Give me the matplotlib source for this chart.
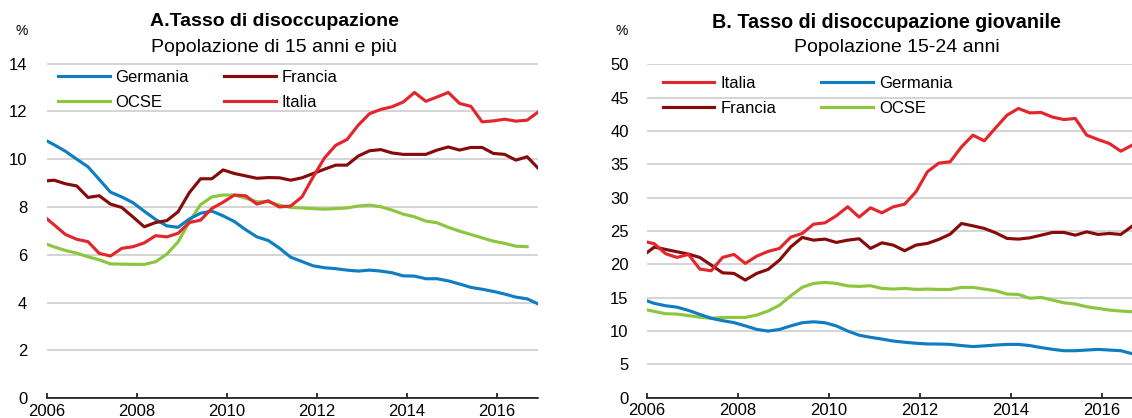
import numpy as np
import matplotlib
matplotlib.use("Agg")
import matplotlib.pyplot as plt

plt.rcParams['font.family'] = ['Liberation Sans', 'DejaVu Sans']

# DATA: quarterly values, first value = 2005Q4 (only its segment to 2006 shows)
# A. Tasso di disoccupazione, popolazione 15+
a_germania = [10.85, 10.6, 10.33, 10.0, 9.68, 9.15, 8.62, 8.42, 8.18, 7.82, 7.48, 7.21,
              7.15, 7.5, 7.74, 7.83, 7.63, 7.39, 7.05, 6.75, 6.6, 6.28, 5.9, 5.72,
              5.54, 5.46, 5.42, 5.36, 5.32, 5.36, 5.32, 5.25, 5.12, 5.11, 5.0, 5.0,
              4.91, 4.78, 4.64, 4.56, 4.47, 4.36, 4.23, 4.16, 3.94]
a_francia = [9.08, 9.12, 8.97, 8.88, 8.4, 8.47, 8.12, 7.98, 7.58, 7.17, 7.35, 7.43,
             7.8, 8.6, 9.18, 9.18, 9.55, 9.4, 9.3, 9.2, 9.23, 9.22, 9.12, 9.22,
             9.4, 9.58, 9.75, 9.75, 10.13, 10.35, 10.4, 10.26, 10.2, 10.2, 10.2, 10.38,
             10.51, 10.38, 10.49, 10.49, 10.24, 10.2, 9.96, 10.1, 9.61]
a_italia = [7.65, 7.25, 6.85, 6.65, 6.55, 6.06, 5.95, 6.27, 6.34, 6.5, 6.8, 6.75,
            6.9, 7.35, 7.45, 7.94, 8.2, 8.5, 8.47, 8.12, 8.26, 8.0, 8.04, 8.42,
            9.26, 10.05, 10.58, 10.82, 11.42, 11.9, 12.08, 12.19, 12.39, 12.79, 12.42, 12.6,
            12.79, 12.33, 12.21, 11.56, 11.6, 11.67, 11.59, 11.63, 11.98]
a_ocse = [6.5, 6.33, 6.18, 6.07, 5.92, 5.79, 5.62, 5.61, 5.6, 5.6, 5.71, 6.03,
          6.54, 7.38, 8.1, 8.42, 8.5, 8.5, 8.37, 8.22, 8.22, 8.08, 7.98, 7.96,
          7.93, 7.91, 7.93, 7.96, 8.04, 8.08, 8.01, 7.87, 7.7, 7.59, 7.41, 7.34,
          7.15, 6.99, 6.85, 6.71, 6.57, 6.48, 6.36, 6.34]

# B. Tasso di disoccupazione giovanile, 15-24 anni
b_italia = [23.5, 23.1, 21.6, 21.05, 21.5, 19.3, 19.05, 21.05, 21.5, 20.15, 21.24, 21.95,
            22.4, 24.1, 24.65, 26.04, 26.24, 27.3, 28.65, 27.1, 28.5, 27.74, 28.64, 29.04,
            30.9, 33.9, 35.2, 35.4, 37.64, 39.4, 38.54, 40.5, 42.4, 43.4, 42.74, 42.8,
            42.1, 41.74, 41.9, 39.4, 38.74, 38.14, 36.99, 37.9]
b_francia = [21.3, 22.6, 22.25, 21.9, 21.55, 21.05, 19.9, 18.74, 18.65, 17.65, 18.65, 19.25,
             20.64, 22.64, 24.05, 23.64, 23.8, 23.3, 23.64, 23.85, 22.4, 23.24, 22.9, 22.05,
             22.9, 23.15, 23.75, 24.54, 26.14, 25.79, 25.4, 24.74, 23.9, 23.8, 23.99, 24.39,
             24.8, 24.8, 24.39, 24.89, 24.5, 24.65, 24.5, 25.74]
b_germania = [14.75, 14.15, 13.8, 13.58, 13.1, 12.5, 11.92, 11.56, 11.27, 10.78, 10.25, 10.0,
              10.24, 10.78, 11.25, 11.39, 11.25, 10.77, 10.0, 9.38, 9.06, 8.8, 8.5, 8.32,
              8.17, 8.06, 8.05, 8.0, 7.82, 7.67, 7.78, 7.9, 8.0, 8.0, 7.82, 7.52,
              7.26, 7.05, 7.05, 7.15, 7.25, 7.15, 7.05, 6.6]
b_ocse = [13.3, 12.95, 12.6, 12.55, 12.32, 12.08, 11.92, 12.04, 12.05, 12.05, 12.4, 13.0,
          13.88, 15.3, 16.57, 17.15, 17.3, 17.15, 16.78, 16.7, 16.8, 16.4, 16.3, 16.4,
          16.25, 16.3, 16.25, 16.25, 16.55, 16.55, 16.3, 16.05, 15.55, 15.5, 14.92, 15.05,
          14.65, 14.24, 14.05, 13.65, 13.4, 13.15, 13.0, 12.9]

COL_GER = '#0F7DC2'
COL_FRA = '#870B0B'
COL_ITA = '#E2262C'
COL_OCSE = '#8CC63E'
LW = 2.25


def quarters(n):
    # last month of each quarter, starting from 2005Q4
    return 2005 + 11 / 12 + 0.25 * np.arange(n)


def style_axes(ax, ymax, ystep, xmax, ypad):
    ax.set_xlim(2006, xmax)
    ax.set_ylim(0, ymax * 1.003)
    ax.set_yticks(np.arange(0, ymax + 1, ystep))
    ax.set_xticks(range(2006, 2017, 2))
    ax.grid(axis='y', color='#C9C9C9', lw=1.1)
    ax.set_axisbelow(True)
    for s in ['left', 'right', 'top']:
        ax.spines[s].set_visible(False)
    ax.spines['bottom'].set_linewidth(1.1)
    ax.spines['bottom'].set_zorder(5)
    ax.tick_params(axis='y', length=0, pad=ypad, labelsize=12)
    ax.tick_params(axis='x', direction='in', length=3.6, width=1.1, pad=4, labelsize=12)


W, H = 1132, 418
fig = plt.figure(figsize=(W / 100, H / 100), dpi=100)

# PANEL A
axA = fig.add_axes([46.7 / W, 1 - 398.3 / H, 491.7 / W, 335.8 / H])
lines = {}
lines['OCSE'], = axA.plot(quarters(len(a_ocse)), a_ocse, color=COL_OCSE, lw=LW)
lines['Germania'], = axA.plot(quarters(len(a_germania)), a_germania, color=COL_GER, lw=LW)
lines['Francia'], = axA.plot(quarters(len(a_francia)), a_francia, color=COL_FRA, lw=LW)
lines['Italia'], = axA.plot(quarters(len(a_italia)), a_italia, color=COL_ITA, lw=LW)
style_axes(axA, 14, 2, 2016 + 11 / 12, 14)
order = ['Germania', 'OCSE', 'Francia', 'Italia']
axA.legend([lines[k] for k in order], order, ncol=2, loc='upper left',
           bbox_to_anchor=(58 / W, 1 - 70 / H), bbox_transform=fig.transFigure,
           frameon=False, fontsize=12, handlelength=3.1, handletextpad=0.35,
           columnspacing=2.1, labelspacing=0.6, borderpad=0, borderaxespad=0)

# PANEL B
axB = fig.add_axes([646.7 / W, 1 - 397.7 / H, 485.5 / W, 334.2 / H])
lines = {}
lines['OCSE'], = axB.plot(quarters(len(b_ocse)), b_ocse, color=COL_OCSE, lw=LW)
lines['Germania'], = axB.plot(quarters(len(b_germania)), b_germania, color=COL_GER, lw=LW)
lines['Francia'], = axB.plot(quarters(len(b_francia)), b_francia, color=COL_FRA, lw=LW)
lines['Italia'], = axB.plot(quarters(len(b_italia)), b_italia, color=COL_ITA, lw=LW)
style_axes(axB, 50, 5, 2016 + 8 / 12, 13)
order = ['Italia', 'Francia', 'Germania', 'OCSE']
axB.legend([lines[k] for k in order], order, ncol=2, loc='upper left',
           bbox_to_anchor=(662.7 / W, 1 - 76 / H), bbox_transform=fig.transFigure,
           frameon=False, fontsize=12, handlelength=3.1, handletextpad=0.35,
           columnspacing=2.72, labelspacing=0.62, borderpad=0, borderaxespad=0)

# TITLES
fig.text(274 / W, 1 - 22 / H, 'A.Tasso di disoccupazione', ha='center', va='center',
         fontsize=14, fontweight='bold')
fig.text(274 / W, 1 - 48 / H, 'Popolazione di 15 anni e più', ha='center', va='center',
         fontsize=14)
fig.text(886 / W, 1 - 22 / H, 'B. Tasso di disoccupazione giovanile', ha='center', va='center',
         fontsize=14.2, fontweight='bold')
fig.text(897 / W, 1 - 48 / H, 'Popolazione 15-24 anni', ha='center', va='center',
         fontsize=14)
fig.text(22 / W, 1 - 31 / H, '%', ha='center', va='center', fontsize=10)
fig.text(622 / W, 1 - 31 / H, '%', ha='center', va='center', fontsize=10)

fig.savefig('out.png', dpi=100)
